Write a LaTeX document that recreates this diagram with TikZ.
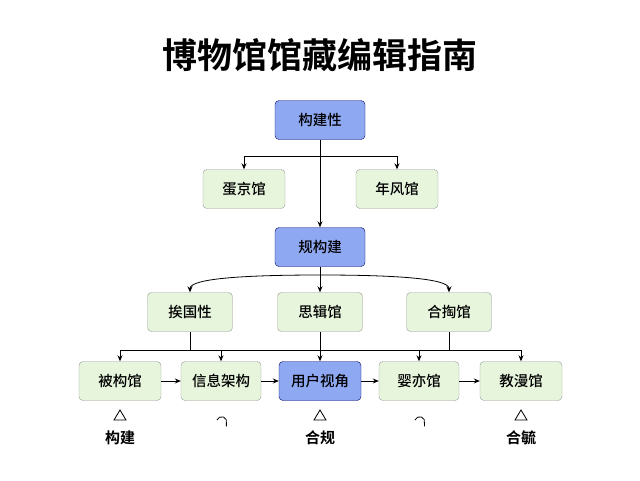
\documentclass[tikz,border=0pt]{standalone}
\usepackage{fontspec}
\newfontfamily\cjk{Noto Sans CJK SC Medium}
\newfontfamily\cjkb{Noto Sans CJK SC Bold}
\usetikzlibrary{arrows.meta}
\definecolor{bl}{HTML}{8FA8F2}
\definecolor{gr}{HTML}{E6F5DC}
\begin{document}
\begin{tikzpicture}[x=1pt,y=-1pt,
  box/.style={draw=black!40,rounded corners=4pt,fill=gr,minimum height=39pt,font=\cjk\fontsize{14.5}{16}\selectfont,inner sep=2pt},
  gbox/.style={box,minimum width=82pt},
  bbox/.style={box,fill=bl,draw=blue!40!black,minimum width=90pt},
  ar/.style={-{Stealth[length=6pt,width=5pt]},thick},
  ln/.style={thick},
  lab/.style={font=\cjkb\fontsize{15}{17}\selectfont}]
\useasboundingbox (0,0) rectangle (640,480);
\node[font=\cjkb\fontsize{35}{38}\selectfont] (title) at (320,55) {博物馆馆藏编辑指南};
\node[bbox] (a) at (320,120) {构建性};
\node[gbox] (b1) at (244,189) {蛋京馆};
\node[gbox] (b2) at (397,189) {年风馆};
\node[bbox] (c) at (320,247) {规构建};
\node[gbox,minimum width=85pt] (d1) at (190,312) {挨国性};
\node[gbox,minimum width=85pt] (d2) at (320,312) {思辑馆};
\node[gbox,minimum width=85pt] (d3) at (449,312) {合掏馆};
\node[gbox] (e1) at (120,381) {被构馆};
\node[gbox,minimum width=80pt] (e2) at (221,381) {信息架构};
\node[bbox,minimum width=82pt] (e3) at (320,381) {用户视角};
\node[gbox,minimum width=80pt] (e4) at (419,381) {婴亦馆};
\node[gbox] (e5) at (521,381) {教漫馆};
\draw[ar] (a.south) -- (c.north);
\coordinate (j1) at (320,156);
\draw[ar] (j1) -| (b1.north);
\draw[ar] (j1) -| (b2.north);
\coordinate (j2) at (320,275);
\draw[ar] (c.south) -- (d2.north);
\draw[ar] (j2) .. controls (250,275) and (190,278) .. (d1.north);
\draw[ar] (j2) .. controls (390,275) and (449,278) .. (d3.north);
\coordinate (k1) at (190,350);
\coordinate (k3) at (449,350);
\draw[ln] (d1.south) -- (k1);
\draw[ln] (d3.south) -- (k3);
\draw[ln] (120,350) -- (521,350);
\draw[ar] (d2.south) -- (e3.north);
\draw[ar] (120,350) -- (e1.north);
\draw[ar] (221,350) -- (e2.north);
\draw[ar] (419,350) -- (e4.north);
\draw[ar] (521,350) -- (e5.north);
\draw[ar] (e1) -- (e2);
\draw[ar] (e2) -- (e3);
\draw[ar] (e3) -- (e4);
\draw[ar] (e4) -- (e5);
\foreach \x in {120,320,521}{
  \draw[thick] (\x-6,420) -- (\x+6,420) -- (\x,410) -- cycle;}
\foreach \x in {221,419}{
  \draw[thick] (\x-4,420) arc[start angle=200,end angle=380,radius=5] -- ++(0,3);}
\node[lab] (l1) at (120,438) {构建};
\node[lab] (l3) at (320,438) {合规};
\node[lab] (l5) at (521,438) {合毓};
\end{tikzpicture}
\end{document}
